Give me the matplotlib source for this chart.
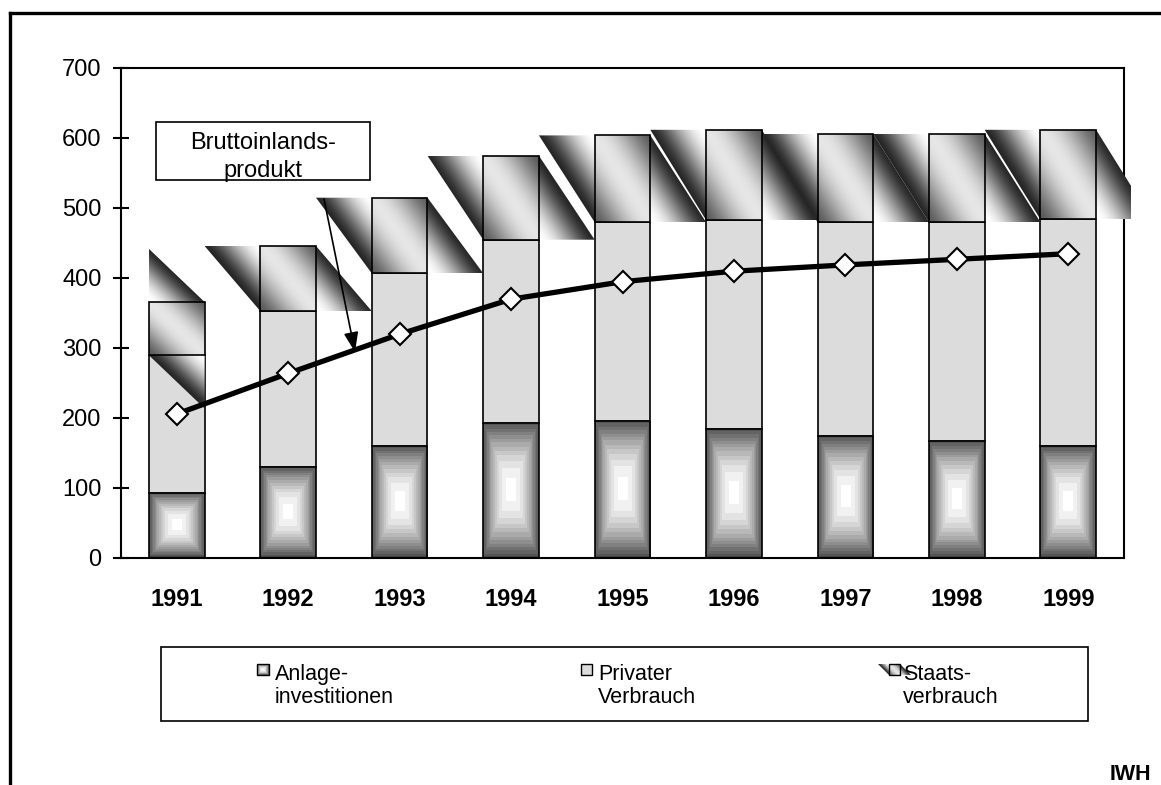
import numpy as np
import matplotlib
matplotlib.use("Agg")
import matplotlib.pyplot as plt
from matplotlib.patches import Polygon, Rectangle
from matplotlib.transforms import Bbox, TransformedBbox

# ---------------- data ----------------
years = ["1991", "1992", "1993", "1994", "1995", "1996", "1997", "1998", "1999"]
anlage = [92, 130, 159, 192, 195, 184, 174, 167, 160]          # Anlageinvestitionen
privat = [197, 222, 247, 262, 284, 298, 305, 312, 323]         # Privater Verbrauch
staats = [76, 93, 108, 120, 124, 129, 126, 126, 128]           # Staatsverbrauch
bip = [205, 263, 319, 369, 394, 409, 418, 426, 434]            # Bruttoinlandsprodukt
legend_labels = ["Anlage-\ninvestitionen", "Privater\nVerbrauch", "Staats-\nverbrauch"]
annot_label = "Bruttoinlands-\nprodukt"
source_label = "IWH"
yticks = [0, 100, 200, 300, 400, 500, 600, 700]

# ---------------- figure ----------------
W, H = 1161, 785
plt.rcParams["font.family"] = ["Liberation Sans", "DejaVu Sans"]
fig = plt.figure(figsize=(W / 100, H / 100), dpi=100)

AX_L, AX_R, AX_T, AX_B = 121, 1124, 67.5, 557.5
ax = fig.add_axes([AX_L / W, 1 - AX_B / H, (AX_R - AX_L) / W, (AX_B - AX_T) / H])
n = len(years)
x = np.arange(n)
BW = 0.5
YMAX = 700
px_per_x = (AX_R - AX_L) / n
px_per_y = (AX_B - AX_T) / YMAX

anl = np.array(anlage, float)
pri = np.array(privat, float)
sta = np.array(staats, float)


def shade(u):
    u = np.clip(u, 0, 1)
    return 0.15 + 0.85 * np.sin(np.pi * u) ** 1.5


def staats_patch(axx, L, R, B, T, horizontal, z, clip_box=None, res=220, lw=1.2):
    dw = R - L
    dh = T - B
    if horizontal:
        verts = [(L - dw, T), (R, T), (R + dw, B), (L, B)]
        xs = np.linspace(L - dw, R + dw, res)
        ys = np.linspace(B, T, res)
        XX, YY = np.meshgrid(xs, ys)
        xl = L - dw * (YY - B) / dh
        U = (XX - xl) / (2 * dw)
    else:
        verts = [(L, T + dh), (R, T), (R, B - dh), (L, B)]
        xs = np.linspace(L, R, res)
        ys = np.linspace(B - dh, T + dh, res)
        XX, YY = np.meshgrid(xs, ys)
        yt = T + dh - dh * (XX - L) / dw
        U = (yt - YY) / (2 * dh)
    img = shade(U)
    poly = Polygon(verts, closed=True, transform=axx.transData)
    im = axx.imshow(img, cmap="gray", vmin=0, vmax=1,
                    extent=(xs[0], xs[-1], ys[0], ys[-1]), origin="lower",
                    aspect="auto", interpolation="bilinear", zorder=z)
    if clip_box is not None:
        im.set_clip_box(clip_box)
    im.set_clip_path(poly)
    # the bar itself: same gradient seen through a fine screen (lower contrast)
    axx.add_patch(Rectangle((L, B), dw, dh, facecolor=(0.72, 0.72, 0.72, 0.35),
                            edgecolor="black", linewidth=lw, zorder=z + 0.5))


# box ("from centre") gradient for Anlageinvestitionen
g = np.linspace(-1, 1, 121)
GX, GY = np.meshgrid(g, g)
TT = np.maximum(np.abs(GX), np.abs(GY))
center_grad = np.round((1 - 0.7 * TT ** 1.9) * 18) / 18

# Privater Verbrauch
ax.bar(x, pri, bottom=anl, width=BW, color="#dcdcdc", edgecolor="black",
       linewidth=1.2, zorder=2)
# Anlageinvestitionen
for xi, a in zip(x, anl):
    ax.imshow(center_grad, cmap="gray", vmin=0, vmax=1,
              extent=(xi - BW / 2, xi + BW / 2, 0, a), aspect="auto",
              interpolation="nearest", zorder=2.1)
ax.bar(x, anl, width=BW, fill=False, edgecolor="black", linewidth=1.2, zorder=2.2)

# Staatsverbrauch (diagonal gradient fill with its sheared artefacts)
clip = TransformedBbox(Bbox.from_extents(0, 0, 1131 / W, 1), fig.transFigure)
for i, (xi, b, s) in enumerate(zip(x, anl + pri, sta)):
    horiz = s * px_per_y >= BW * px_per_x
    staats_patch(ax, xi - BW / 2, xi + BW / 2, b, b + s, horiz, 3 + 0.01 * i, clip_box=clip)

# Bruttoinlandsprodukt
ax.plot(x, bip, color="black", linewidth=3.8, marker="D", markersize=11,
        markerfacecolor="white", markeredgecolor="black", markeredgewidth=1.5,
        zorder=6)

ax.set_xlim(-0.5, n - 0.5)
ax.set_ylim(0, YMAX)
ax.set_yticks(yticks)
ax.set_yticklabels([str(v) for v in yticks])
ax.tick_params(axis="y", direction="inout", length=12, width=1.5, labelsize=17, pad=8)
ax.set_xticks(x)
ax.set_xticklabels(years, fontweight="bold", fontsize=17)
ax.tick_params(axis="x", length=0, pad=22)
for sp in ax.spines.values():
    sp.set_linewidth(1.5)

# ---------------- overlay in pixel coordinates ----------------
ov = fig.add_axes([0, 0, 1, 1], zorder=10)
ov.patch.set_alpha(0)

# outer frame (top and left edges visible)
ov.plot([9.5, W + 5], [12.5, 12.5], color="black", lw=2.4, solid_capstyle="projecting", clip_on=False)
ov.plot([9.5, 9.5], [12.5, H + 5], color="black", lw=2.4, solid_capstyle="projecting", clip_on=False)

# annotation
ov.add_patch(Rectangle((155.7, 121.7), 214.3, 58.3, fill=False, edgecolor="black", lw=1.2))
ov.text(263, 157, annot_label, ha="center", va="center", fontsize=17, linespacing=1.32)
ov.annotate("", xy=(355, 352), xytext=(324, 199),
            arrowprops=dict(arrowstyle="-|>,head_length=0.6,head_width=0.22",
                            color="black", lw=1.2, shrinkA=0, shrinkB=0,
                            mutation_scale=20))

# legend
ov.add_patch(Rectangle((161, 647.3), 927, 73.4, fill=False, edgecolor="black", lw=1.2))
ov.imshow(center_grad, cmap="gray", vmin=0, vmax=1, extent=(257, 269, 675, 664),
          aspect="auto", interpolation="nearest", zorder=2)
ov.add_patch(Rectangle((257, 664), 12, 11, fill=False, edgecolor="black", lw=1.0, zorder=3))
ov.add_patch(Rectangle((581, 664), 11, 11, facecolor="#dcdcdc", edgecolor="black", lw=1.0, zorder=3))
staats_patch(ov, 889, 900, 675, 664, True, 2, res=60, lw=1.0)
for tx, lab in zip([275, 598, 903], legend_labels):
    ov.text(tx, 686, lab, ha="left", va="center", fontsize=15.5, linespacing=1.15, zorder=5)

ov.text(1151, 780, source_label, ha="right", va="baseline", fontsize=15.5, fontweight="bold")

ov.set_xlim(0, W)
ov.set_ylim(H, 0)
ov.axis("off")

fig.savefig("out.png", dpi=100)
